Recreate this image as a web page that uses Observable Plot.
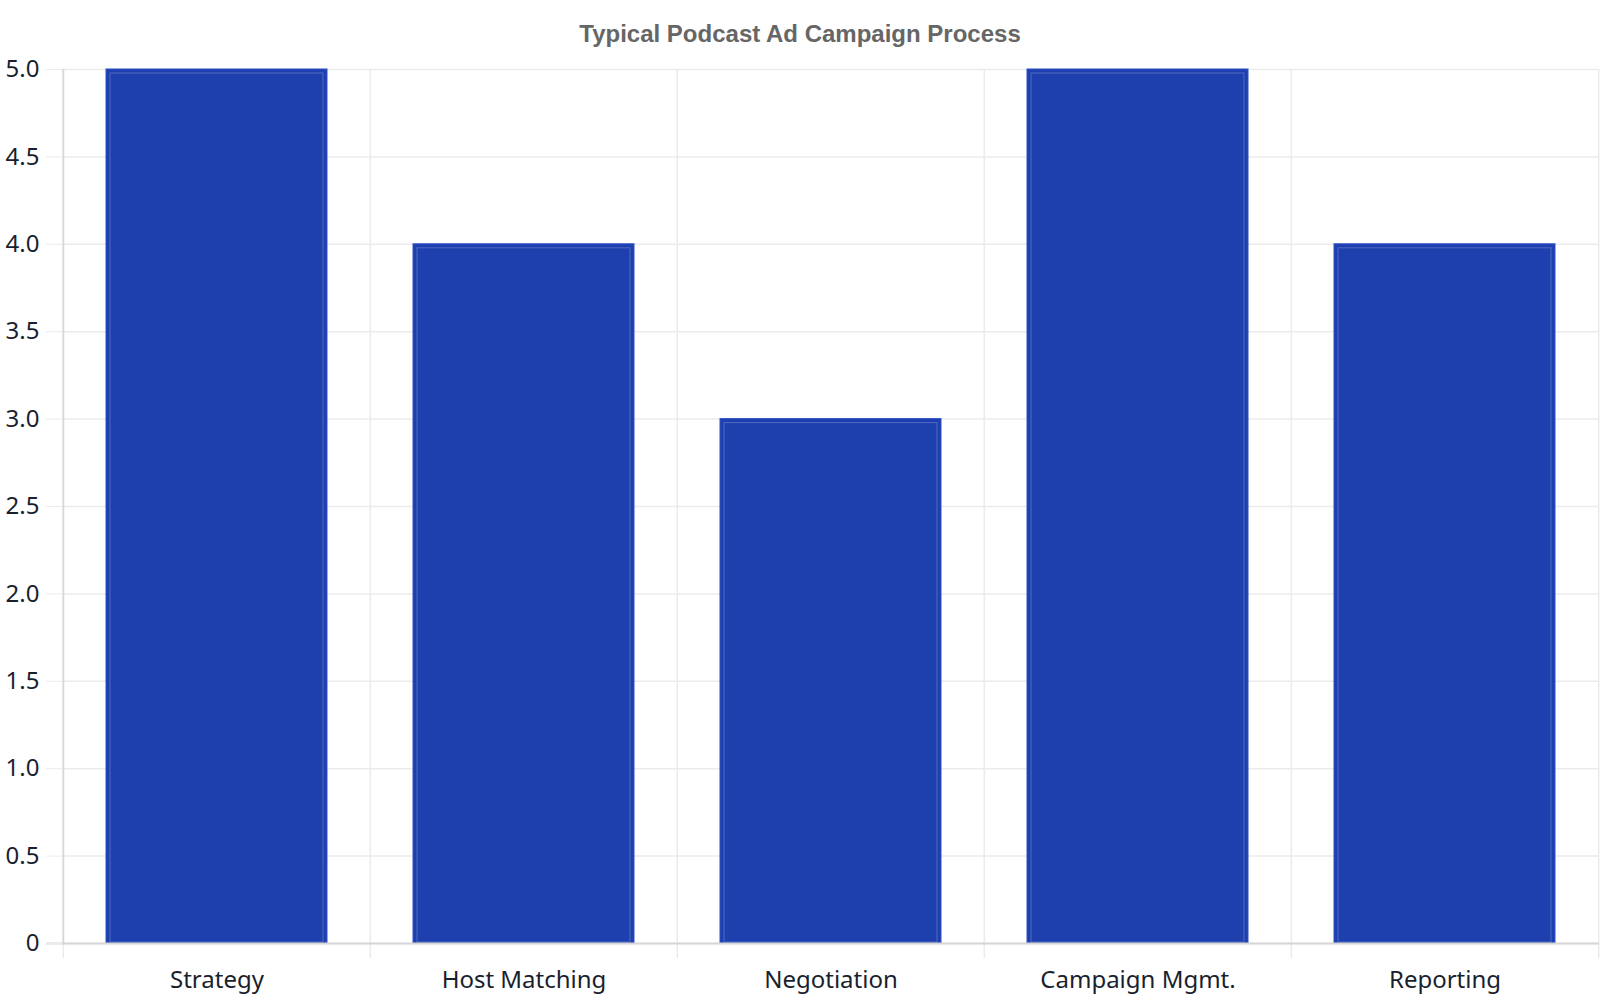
<!DOCTYPE html>
<html>
<head>
<meta charset="utf-8">
<script src="https://cdn.jsdelivr.net/npm/d3@7"></script>
<script src="https://cdn.jsdelivr.net/npm/@observablehq/plot@0.6"></script>
<style>
  html, body { margin: 0; padding: 0; background: #fff; overflow: hidden; }
  #title { height: 50px; box-sizing: border-box; padding-top: 22px; font: bold 24px "Liberation Sans", Arial, sans-serif; line-height: 24px; text-align: center; color: #666; }
</style>
</head>
<body>
<div id="title">Typical Podcast Ad Campaign Process</div>
<div id="chart"></div>
<script>
const categories = ["Strategy", "Host Matching", "Negotiation", "Campaign Mgmt.", "Reporting"];
const values = [5, 4, 3, 5, 4];
const yTicks = [0, 0.5, 1, 1.5, 2, 2.5, 3, 3.5, 4, 4.5, 5];

const data = categories.map((c, i) => ({ step: c, value: values[i] }));

const W = 1600, H = 950, ML = 62, MR = 1, MT = 19, MB = 57;
const step = (W - ML - MR) / categories.length;

const chart = Plot.plot({
  width: W,
  height: H,
  marginLeft: ML,
  marginRight: MR,
  marginTop: MT,
  marginBottom: MB,
  style: { fontFamily: "'Noto Sans', sans-serif", fontSize: "24px", color: "#1a1f2e", overflow: "visible" },
  x: { domain: categories, padding: 0, label: null },
  y: { domain: [0, 5], label: null },
  marks: [
    Plot.gridY(yTicks, { stroke: "#ebebeb", strokeOpacity: 1, strokeWidth: 1.5 }),
    Plot.ruleX(categories.slice(1), { dx: -step / 2, y1: 5, y2: 0, stroke: "#ebebeb", strokeWidth: 1.5, insetBottom: -15 }),
    Plot.ruleX(categories.slice(-1), { dx: step / 2, y1: 5, y2: 0, stroke: "#ebebeb", strokeWidth: 1.5, insetBottom: -15 }),
    Plot.ruleX(categories.slice(0, 1), { dx: -step / 2, y1: 0, y2: 0, stroke: "#ebebeb", strokeWidth: 1.5, insetBottom: -15 }),
    Plot.ruleX(categories.slice(0, 1), { dx: -step / 2, y1: 5, y2: 0, stroke: "#d9d9d9", strokeWidth: 2 }),
    Plot.barY(data, { x: "step", y: "value", fill: "#1e40af", stroke: "#2d50c8", strokeWidth: 1, insetLeft: 43, insetRight: 43 }),
    Plot.barY(data, { x: "step", y: "value", fill: "none", stroke: "#ffffff", strokeOpacity: 0.22, strokeWidth: 1, insetLeft: 47, insetRight: 47, insetTop: 4, insetBottom: 1 }),
    Plot.ruleY([0], { stroke: "#d6d6d6", strokeWidth: 2, insetLeft: -16 }),
    Plot.axisY(yTicks, { tickSize: 16, tickPadding: 7, stroke: "#ebebeb", fill: "#1a1f2e", fontSize: 24, tickFormat: d => d === 0 ? "0" : d.toFixed(1) }),
    Plot.axisX({ tickSize: 0, tickPadding: 27, fill: "#1a1f2e", fontSize: 24 })
  ]
});
document.getElementById("chart").appendChild(chart);
</script>
</body>
</html>
